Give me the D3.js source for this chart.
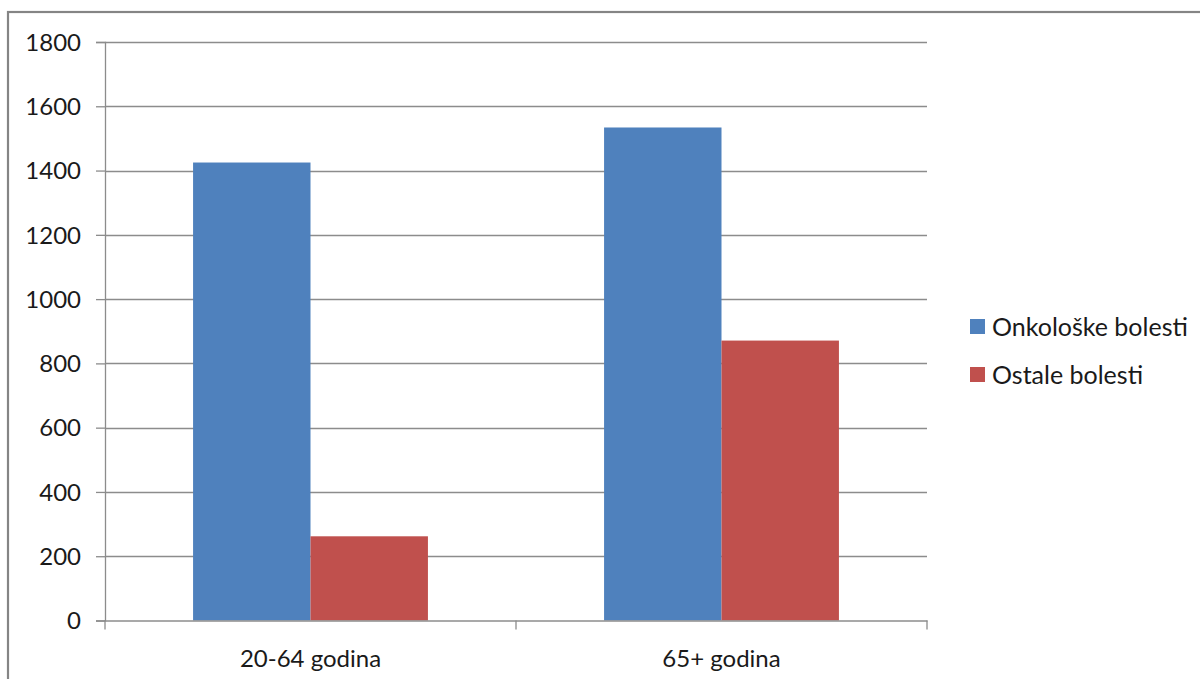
<!DOCTYPE html>
<html><head><meta charset="utf-8">
<script src="https://cdn.jsdelivr.net/npm/d3@7"></script>
<style>body{margin:0;background:#fff}svg{display:block}text{font-family:Lato,"Open Sans",sans-serif;fill:#1a1a1a}</style>
</head><body>
<svg id="c" width="1200" height="679"></svg>
<script>
const categories = ["20-64 godina", "65+ godina"];
const seriesNames = ["Onkološke bolesti", "Ostale bolesti"];
const onkoloske = [1425, 1534];
const ostale = [262, 871];
const yTicks = [0, 200, 400, 600, 800, 1000, 1200, 1400, 1600, 1800];
const colors = ["#4F81BD", "#C0504D"];

const series = [onkoloske, ostale];
const svg = d3.select("#c");
const L = 105, R = 927, T = 42, B = 620.5;
const grid = "#8c8c8c";

svg.append("rect").attr("x", 8).attr("y", 12).attr("width", 1300).attr("height", 800)
  .attr("fill", "none").attr("stroke", "#858585").attr("stroke-width", 2.2);

const x = d3.scaleBand().domain(categories).range([L, R]).paddingInner(0).paddingOuter(0);
const x1 = d3.scaleBand().domain(seriesNames).range([0, x.bandwidth()]).paddingOuter(0.75).paddingInner(0);
const y = d3.scaleLinear().domain([0, 1800]).range([B, T]);

// gridlines
svg.append("g").selectAll("line").data(yTicks.filter(d => d > 0)).join("line")
  .attr("x1", L).attr("x2", R).attr("y1", d => Math.round(y(d)) + 0.5).attr("y2", d => Math.round(y(d)) + 0.5)
  .attr("stroke", grid).attr("stroke-width", 1.3);

// bars
const g = svg.append("g");
categories.forEach((c, i) => {
  seriesNames.forEach((s, j) => {
    g.append("rect")
      .attr("x", x(c) + x1(s)).attr("width", x1.bandwidth())
      .attr("y", y(series[j][i])).attr("height", y(0) - y(series[j][i]))
      .attr("fill", colors[j]);
  });
});

// y axis
const ya = svg.append("g").attr("transform", `translate(${L},0)`)
  .call(d3.axisLeft(y).tickValues(yTicks).tickSize(9).tickPadding(15).tickFormat(d3.format("d")));
ya.select(".domain").attr("stroke", grid).attr("stroke-width", 1.3);
ya.selectAll(".tick line").attr("stroke", grid).attr("stroke-width", 1.3);
ya.selectAll(".tick text").attr("font-size", 24).attr("font-family", "Lato").attr("fill", "#1a1a1a").attr("dy", "0.34em");

// x axis
const xa = svg.append("g").attr("transform", `translate(0,${B})`)
  .call(d3.axisBottom(x).tickSize(0).tickPadding(29));
xa.select(".domain").attr("stroke", grid).attr("stroke-width", 1.3);
xa.selectAll(".tick text").attr("font-size", 24).attr("font-family", "Lato").attr("fill", "#1a1a1a");
svg.append("g").selectAll("line").data([L, (L + R) / 2, R]).join("line")
  .attr("x1", d => d).attr("x2", d => d).attr("y1", B).attr("y2", B + 9)
  .attr("stroke", grid).attr("stroke-width", 1.3);

// legend
const lg = svg.append("g");
seriesNames.forEach((s, j) => {
  const cy = 327 + j * 48;
  lg.append("rect").attr("x", 970).attr("y", cy - 8).attr("width", 15).attr("height", 15).attr("fill", colors[j]);
  lg.append("text").attr("x", 992).attr("y", cy).attr("dy", "0.35em").attr("font-size", 25).text(s);
});
</script>
</body></html>
